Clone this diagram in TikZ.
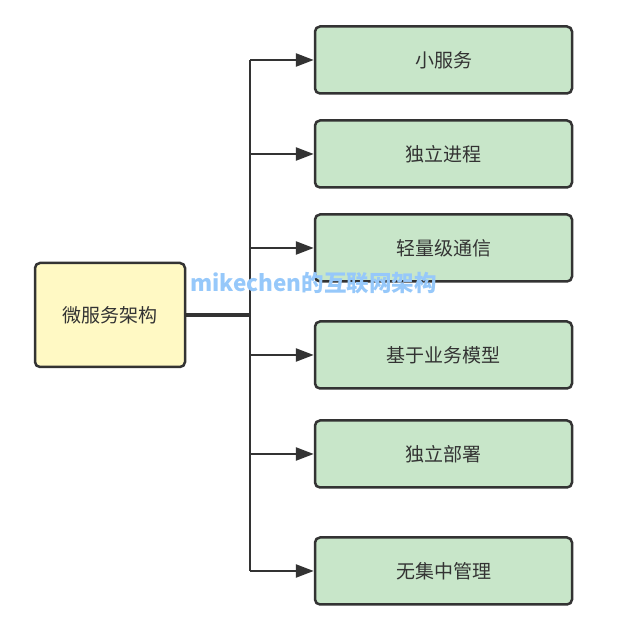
\documentclass[tikz,border=0pt]{standalone}
\usepackage{fontspec}
\newfontfamily\cjk{Noto Sans CJK SC}
\usetikzlibrary{arrows.meta}
\definecolor{boxline}{RGB}{51,51,51}
\definecolor{greenbox}{RGB}{200,230,201}
\definecolor{yellowbox}{RGB}{255,249,196}
\definecolor{markblue}{RGB}{150,200,250}

\begin{document}
\begin{tikzpicture}[x=1pt,y=1pt,
  item/.style={rectangle,fill=greenbox,rounded corners=5pt,draw=boxline,line width=2.5pt,minimum width=257pt,minimum height=67pt,text=boxline,font=\cjk\fontsize{19}{22}\selectfont},
  root/.style={rectangle,fill=yellowbox,rounded corners=5pt,draw=boxline,line width=2.5pt,minimum width=150pt,minimum height=104pt,text=boxline,font=\cjk\fontsize{19}{22}\selectfont},
  link/.style={draw=boxline,line width=2.8pt},
  arr/.style={draw=boxline,line width=2.5pt,-{Triangle[length=18pt,width=13pt]}}]
\useasboundingbox (0,0) rectangle (625,632);
\node[root] (main) at (110,317) {微服务架构};
\node[item] (s1) at (443.5,572) {小服务};
\node[item] (s2) at (443.5,478) {独立进程};
\node[item] (s3) at (443.5,384) {轻量级通信};
\node[item] (s4) at (443.5,277) {基于业务模型};
\node[item] (s5) at (443.5,178) {独立部署};
\node[item] (s6) at (443.5,61) {无集中管理};
\coordinate (bus) at (250,317);
\draw[link,line width=3.5pt] (main.east) -- (bus);
\draw[link] (bus|-s1) -- (bus|-s6);
\foreach \s in {s1,s2,s3,s4,s5,s6}
  \draw[arr] (bus|-\s) -- (\s.west);
\node[text=markblue,font=\cjk\bfseries\fontsize{22.5}{25}\selectfont] (mark) at (313.5,349) {mikechen的互联网架构};
\end{tikzpicture}
\end{document}
